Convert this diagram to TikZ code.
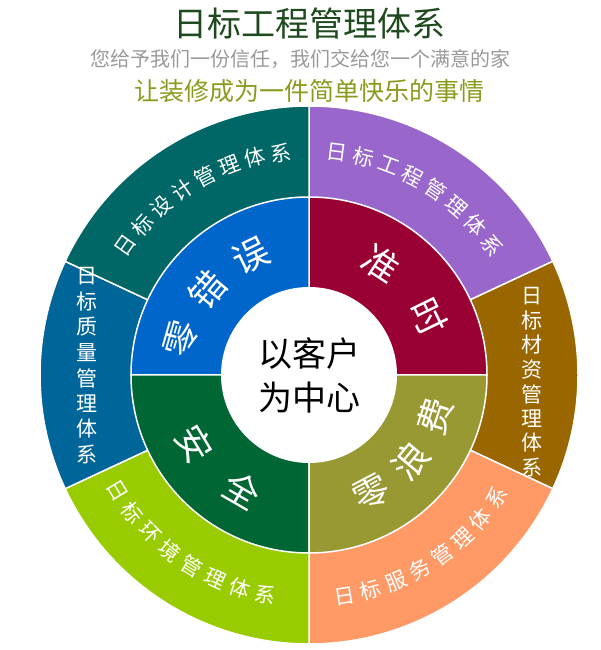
\documentclass[tikz,border=0pt]{standalone}
\usepackage{fontspec}
\setmainfont{Noto Sans CJK SC}
\usetikzlibrary{calc}
\definecolor{cTitle}{HTML}{1F4A1F}
\definecolor{cSub}{HTML}{999999}
\definecolor{cOlive}{HTML}{8C9A1E}
\definecolor{oTeal}{HTML}{006666}
\definecolor{oPurple}{HTML}{9966CC}
\definecolor{oBrown}{HTML}{996600}
\definecolor{oOrange}{HTML}{FF9966}
\definecolor{oLime}{HTML}{99CC00}
\definecolor{oBlue}{HTML}{006699}
\definecolor{iBlue}{HTML}{0066CC}
\definecolor{iRed}{HTML}{990033}
\definecolor{iOlive}{HTML}{999933}
\definecolor{iGreen}{HTML}{006633}
\begin{document}
\begin{tikzpicture}[x=1pt,y=1pt,
        sector/.style={draw=white,line width=1.5pt},
        outerch/.style={text=white,font=\fontsize{21}{21}\selectfont,inner sep=0pt},
        innerch/.style={text=white,font=\fontsize{36}{36}\selectfont,inner sep=0pt}]
    \useasboundingbox (0,0) rectangle (600,650);
    \coordinate (c) at (309,275);
    % titles
    \node[text=cTitle,font=\fontsize{34}{34}\selectfont] (title) at (309,626) {日标工程管理体系};
    \node[text=cSub,font=\fontsize{20}{20}\selectfont] (sub) at (300,591) {您给予我们一份信任，我们交给您一个满意的家};
    \node[text=cOlive,font=\fontsize{25}{25}\selectfont] (slogan) at (309,559) {让装修成为一件简单快乐的事情};
    % outer ring
    \foreach \a/\b/\col in {90/25/oPurple,25/-25/oBrown,-25/-90/oOrange,-90/-155/oLime,-155/-205/oBlue,-205/-270/oTeal}
        \filldraw[sector,fill=\col] (c) -- ++(\a:269) arc[start angle=\a,end angle=\b,radius=269] -- cycle;
    % inner quadrants
    \foreach \a/\col in {0/iRed,90/iBlue,180/iGreen,270/iOlive}
        \filldraw[sector,fill=\col] (c) -- ++(\a:178) arc[start angle=\a,end angle=\a+90,radius=178] -- cycle;
    \fill[white] (c) circle (88);
    \node[font=\fontsize{34}{44}\selectfont,align=center] (core) at (c) {以客户\\为中心};
    % curved outer labels
    \foreach \s/\d/\r/\txt in {144.8/-6.8/-90/{日,标,设,计,管,理,体,系},
                              82.8/-6.8/-90/{日,标,工,程,管,理,体,系},
                              -80.8/6.8/90/{日,标,服,务,管,理,体,系},
                              211.2/6.8/90/{日,标,环,境,管,理,体,系}}
        \foreach \ch [count=\i from 0] in \txt
            \node[outerch,rotate={\s+\i*\d+\r}] at ($(c)+({\s+\i*\d}:224)$) {\ch};
    % straight side labels
    \foreach \ch [count=\i from 0] in {日,标,材,资,管,理,体,系}
        \node[outerch] at (532,{354-\i*24.5}) {\ch};
    \foreach \ch [count=\i from 0] in {日,标,质,量,管,理,体,系}
        \node[outerch] at (87,{374-\i*25.5}) {\ch};
    % inner labels
    \foreach \ang/\r/\ch in {164/-90/零,140/-90/错,116/-90/误,57/-90/准,26/-90/时,
                            -62/90/零,-40/90/浪,-18/90/费,211/90/安,240/90/全}
        \node[innerch,rotate=\ang+\r] at ($(c)+(\ang:133)$) {\ch};
\end{tikzpicture}
\end{document}
